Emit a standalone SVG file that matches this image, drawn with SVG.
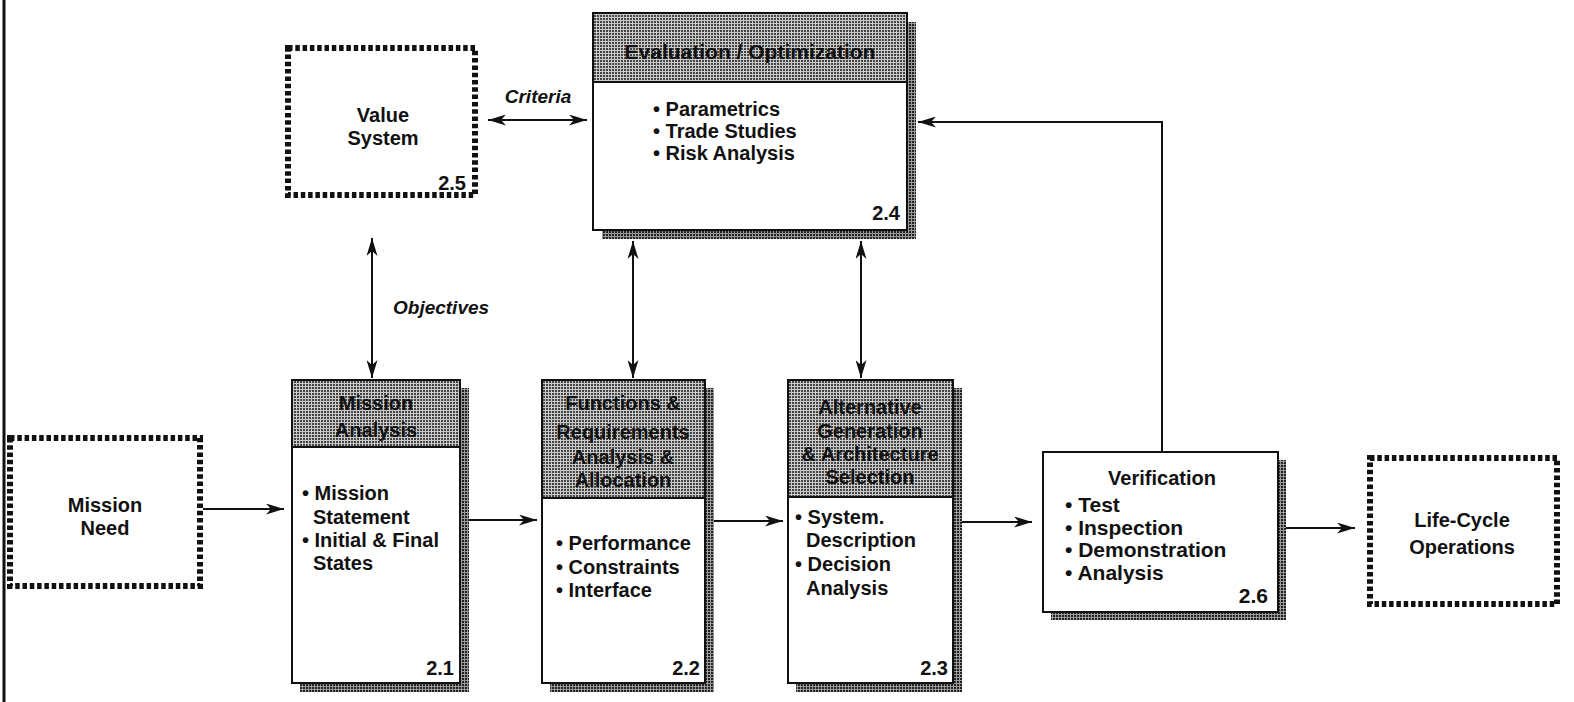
<svg xmlns="http://www.w3.org/2000/svg" width="1574" height="702" viewBox="0 0 1574 702">
<style>
  text { font-family: "Liberation Sans", Arial, Helvetica, sans-serif; font-weight: bold; fill: #111; font-size: 20px; }
  .c { text-anchor: middle; }
  .r { text-anchor: end; }
  .it { font-style: italic; font-size: 19px; }
  .big { font-size: 21px; }
  .box { fill: #fff; stroke: #111; stroke-width: 2; }
  .hdr { fill: url(#ht); stroke: #111; stroke-width: 2; }
  .shd { fill: url(#htd); stroke: none; }
  .dot { fill: #fff; stroke: #111; stroke-width: 6; stroke-dasharray: 4.5 2.8; }
  .arr { fill: none; stroke: #111; stroke-width: 2; marker-end: url(#ah); }
  .arr2 { fill: none; stroke: #111; stroke-width: 2; marker-end: url(#ah); marker-start: url(#ah); }
</style>
<defs>
  <pattern id="ht" width="3" height="3" patternUnits="userSpaceOnUse">
    <rect width="3" height="3" fill="#cacaca"/>
    <rect width="2" height="2" fill="#444"/>
  </pattern>
  <pattern id="htd" width="3" height="3" patternUnits="userSpaceOnUse">
    <rect width="3" height="3" fill="#9a9a9a"/>
    <rect width="2" height="2" fill="#222"/>
  </pattern>
  <marker id="ah" viewBox="0 0 18 11" refX="18" refY="5.5" markerWidth="18" markerHeight="11" markerUnits="userSpaceOnUse" orient="auto-start-reverse">
    <path d="M0,0 L18,5.5 L0,11 L5,5.5 z" fill="#111"/>
  </marker>
</defs>
<rect width="1574" height="702" fill="#fff"/>
<line x1="4" y1="0" x2="4" y2="702" stroke="#111" stroke-width="3"/>

<g id="connectors">
  <line class="arr" x1="203" y1="509" x2="284" y2="509"/>
  <line class="arr" x1="469" y1="520" x2="537" y2="520"/>
  <line class="arr" x1="714" y1="521" x2="783" y2="521"/>
  <line class="arr" x1="962" y1="522" x2="1032" y2="522"/>
  <line class="arr" x1="1286" y1="528" x2="1355" y2="528"/>
  <polyline class="arr" points="1162,452 1162,122 918,122"/>
  <line class="arr2" x1="488" y1="120" x2="587" y2="120"/>
  <line class="arr2" x1="372" y1="238" x2="372" y2="378"/>
  <line class="arr2" x1="633" y1="241" x2="633" y2="378"/>
  <line class="arr2" x1="861" y1="241" x2="861" y2="378"/>
  <text class="it c" x="538" y="103">Criteria</text>
  <text class="it" x="393" y="314">Objectives</text>
</g>

<g id="mission-need">
  <rect class="dot" x="10" y="438" width="190" height="148"/>
  <text class="c" x="105" y="512">Mission</text>
  <text class="c" x="105" y="535">Need</text>
</g>

<g id="value-system">
  <rect class="dot" x="288" y="48" width="187" height="147"/>
  <text class="c" x="383" y="122">Value</text>
  <text class="c" x="383" y="145">System</text>
  <text class="r" x="466" y="190">2.5</text>
</g>

<g id="evaluation">
  <rect class="shd" x="907" y="22" width="9" height="217"/>
  <rect class="shd" x="602" y="230" width="314" height="9"/>
  <rect class="box" x="593" y="13" width="314" height="217"/>
  <rect class="hdr" x="593" y="13" width="314" height="69"/>
  <text class="c big" x="750" y="59">Evaluation / Optimization</text>
  <text x="653" y="116">• Parametrics</text>
  <text x="653" y="138">• Trade Studies</text>
  <text x="653" y="160">• Risk Analysis</text>
  <text class="r" x="900" y="220">2.4</text>
</g>

<g id="mission-analysis">
  <rect class="shd" x="460" y="388" width="9" height="304"/>
  <rect class="shd" x="300" y="683" width="169" height="9"/>
  <rect class="box" x="292" y="380" width="168" height="303"/>
  <rect class="hdr" x="292" y="380" width="168" height="67"/>
  <text class="c" x="376" y="410">Mission</text>
  <text class="c" x="376" y="437">Analysis</text>
  <text x="302" y="500">• Mission</text>
  <text x="313" y="524">Statement</text>
  <text x="302" y="547">• Initial &amp; Final</text>
  <text x="313" y="570">States</text>
  <text class="r" x="454" y="675">2.1</text>
</g>

<g id="functions">
  <rect class="shd" x="705" y="388" width="9" height="304"/>
  <rect class="shd" x="550" y="683" width="164" height="9"/>
  <rect class="box" x="542" y="380" width="163" height="303"/>
  <rect class="hdr" x="542" y="380" width="163" height="118"/>
  <text class="c" x="623" y="410">Functions &amp;</text>
  <text class="c" x="623" y="439">Requirements</text>
  <text class="c" x="623" y="464">Analysis &amp;</text>
  <text class="c" x="623" y="487">Allocation</text>
  <text x="556" y="550">• Performance</text>
  <text x="556" y="574">• Constraints</text>
  <text x="556" y="597">• Interface</text>
  <text class="r" x="700" y="675">2.2</text>
</g>

<g id="alternative">
  <rect class="shd" x="953" y="388" width="9" height="304"/>
  <rect class="shd" x="796" y="683" width="166" height="9"/>
  <rect class="box" x="788" y="380" width="165" height="303"/>
  <rect class="hdr" x="788" y="380" width="165" height="117"/>
  <text class="c" x="870" y="414">Alternative</text>
  <text class="c" x="870" y="438">Generation</text>
  <text class="c" x="870" y="461">&amp; Architecture</text>
  <text class="c" x="870" y="484">Selection</text>
  <text x="795" y="524">• System.</text>
  <text x="806" y="547">Description</text>
  <text x="795" y="571">• Decision</text>
  <text x="806" y="595">Analysis</text>
  <text class="r" x="948" y="675">2.3</text>
</g>

<g id="verification">
  <rect class="shd" x="1278" y="460" width="8" height="160"/>
  <rect class="shd" x="1051" y="612" width="235" height="8"/>
  <rect class="box" x="1043" y="452" width="235" height="160"/>
  <text class="c" x="1162" y="485">Verification</text>
  <text class="big" x="1065" y="512">• Test</text>
  <text class="big" x="1065" y="535">• Inspection</text>
  <text class="big" x="1065" y="557">• Demonstration</text>
  <text class="big" x="1065" y="580">• Analysis</text>
  <text class="r big" x="1268" y="603">2.6</text>
</g>

<g id="life-cycle">
  <rect class="dot" x="1370" y="458" width="187" height="146"/>
  <text class="c" x="1462" y="527">Life-Cycle</text>
  <text class="c" x="1462" y="554">Operations</text>
</g>
</svg>
